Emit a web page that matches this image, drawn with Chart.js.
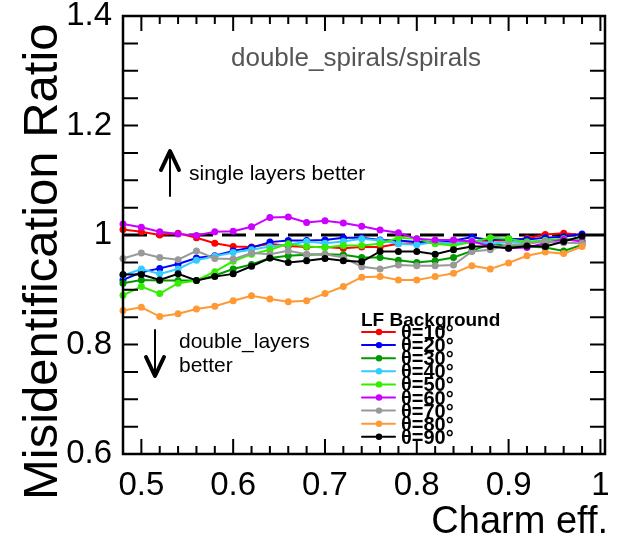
<!DOCTYPE html>
<html>
<head>
<meta charset="utf-8">
<script src="https://cdn.jsdelivr.net/npm/chart.js@4"></script>
<style>
  html, body { margin: 0; padding: 0; background: #fff; }
  #c { display: block; }
</style>
</head>
<body>
<canvas id="c" width="620" height="538"></canvas>
<script>
// charm efficiency bins
const charmEff = [0.48, 0.50, 0.52, 0.54, 0.56, 0.58, 0.60, 0.62, 0.64, 0.66, 0.68, 0.70, 0.72,
                  0.74, 0.76, 0.78, 0.80, 0.82, 0.84, 0.86, 0.88, 0.90, 0.92, 0.94, 0.96, 0.98];

// misidentification ratio per theta
const theta10 = [1.010, 1.006, 1.000, 1.003, 0.995, 0.985, 0.979, 0.978, 0.984, 0.980, 0.978, 0.978, 0.976,
                 0.978, 0.978, 0.984, 0.985, 0.986, 0.986, 0.988, 0.990, 0.990, 0.994, 1.001, 1.003, 1.000];
const theta20 = [0.918, 0.932, 0.939, 0.947, 0.958, 0.962, 0.971, 0.977, 0.987, 0.990, 0.990, 0.991, 0.995,
                 0.995, 0.991, 0.990, 0.987, 0.987, 0.990, 0.996, 0.991, 0.993, 0.992, 0.995, 0.997, 1.002];
const theta30 = [0.912, 0.918, 0.917, 0.917, 0.917, 0.926, 0.938, 0.946, 0.958, 0.962, 0.964, 0.965, 0.964,
                 0.959, 0.959, 0.954, 0.950, 0.953, 0.959, 0.971, 0.984, 0.980, 0.979, 0.977, 0.971, 0.982];
const theta40 = [0.926, 0.938, 0.929, 0.938, 0.954, 0.961, 0.968, 0.973, 0.979, 0.982, 0.988, 0.985, 0.988,
                 0.993, 0.990, 0.984, 0.982, 0.987, 0.984, 0.990, 0.984, 0.987, 0.987, 0.990, 0.991, 0.993];
const theta50 = [0.890, 0.906, 0.893, 0.912, 0.917, 0.933, 0.952, 0.965, 0.973, 0.984, 0.979, 0.977, 0.981,
                 0.981, 0.984, 0.995, 0.993, 0.984, 0.981, 0.987, 0.995, 0.993, 0.987, 0.990, 0.993, 0.990];
const theta60 = [1.020, 1.014, 1.006, 1.002, 0.999, 1.006, 1.007, 1.015, 1.032, 1.033, 1.023, 1.026, 1.022,
                 1.016, 1.009, 1.004, 0.993, 0.991, 0.991, 0.988, 0.980, 0.976, 0.977, 0.985, 0.992, 0.988];
const theta70 = [0.957, 0.967, 0.959, 0.955, 0.971, 0.957, 0.956, 0.967, 0.965, 0.971, 0.965, 0.965, 0.959,
                 0.942, 0.938, 0.945, 0.944, 0.944, 0.945, 0.970, 0.973, 0.982, 0.984, 0.988, 0.986, 0.985];
const theta80 = [0.862, 0.868, 0.851, 0.856, 0.865, 0.870, 0.880, 0.889, 0.883, 0.878, 0.880, 0.893, 0.906,
                 0.923, 0.924, 0.918, 0.918, 0.924, 0.930, 0.944, 0.938, 0.949, 0.962, 0.969, 0.966, 0.979];
const theta90 = [0.928, 0.928, 0.918, 0.929, 0.917, 0.924, 0.929, 0.943, 0.958, 0.950, 0.953, 0.957, 0.953,
                 0.951, 0.970, 0.970, 0.970, 0.965, 0.973, 0.979, 0.979, 0.976, 0.980, 0.979, 0.988, 0.998];

const seriesLabels = ['θ=10°', 'θ=20°', 'θ=30°', 'θ=40°', 'θ=50°', 'θ=60°', 'θ=70°', 'θ=80°', 'θ=90°'];
const seriesData = [theta10, theta20, theta30, theta40, theta50, theta60, theta70, theta80, theta90];
const seriesColors = ['#ff0000', '#0000ff', '#009a00', '#33ccff', '#33ee00', '#cc00ff', '#999999', '#ff9933', '#000000'];

const xTickLabels = [0.5, 0.6, 0.7, 0.8, 0.9, 1.0];
const yTickLabels = [0.6, 0.8, 1.0, 1.2, 1.4];

const FONT = '"Liberation Sans", Arial, Helvetica, sans-serif';

const datasets = seriesData.map((vals, i) => ({
    label: seriesLabels[i],
    data: vals.map((v, k) => ({ x: charmEff[k], y: v })),
    borderColor: seriesColors[i],
    backgroundColor: seriesColors[i],
    borderWidth: 2,
    pointRadius: 3.5,
    pointBorderWidth: 0,
    tension: 0,
    clip: false,
    order: seriesData.length - 1 - i
}));

// frame, inward ticks, reference line, annotations and legend
const decor = {
    id: 'decor',
    beforeDatasetsDraw(chart) {
        const ctx = chart.ctx, a = chart.chartArea, y = chart.scales.y;
        ctx.save();
        ctx.strokeStyle = '#000';
        ctx.lineWidth = 3;
        ctx.setLineDash([24, 9]);
        ctx.beginPath();
        ctx.moveTo(a.left, y.getPixelForValue(1.0));
        ctx.lineTo(a.right, y.getPixelForValue(1.0));
        ctx.stroke();
        ctx.restore();
    },
    afterDraw(chart) {
        const ctx = chart.ctx, a = chart.chartArea;
        const xs = chart.scales.x, ys = chart.scales.y;
        ctx.save();
        ctx.strokeStyle = '#000';
        ctx.fillStyle = '#000';

        // ticks
        ctx.lineWidth = 2;
        ctx.beginPath();
        for (let k = 0; k <= 26; k++) {
            const v = 0.48 + k * 0.02;
            if (v > 1.005) break;
            const px = xs.getPixelForValue(v);
            const major = Math.abs(v * 10 - Math.round(v * 10)) < 1e-6;
            const len = major ? 15 : 8;
            ctx.moveTo(px, a.bottom); ctx.lineTo(px, a.bottom - len);
            ctx.moveTo(px, a.top); ctx.lineTo(px, a.top + len);
        }
        for (let k = 0; k <= 16; k++) {
            const v = 0.6 + k * 0.05;
            const py = ys.getPixelForValue(v);
            const len = 15;
            ctx.moveTo(a.left, py); ctx.lineTo(a.left + len, py);
            ctx.moveTo(a.right, py); ctx.lineTo(a.right - len, py);
        }
        ctx.stroke();

        // frame
        ctx.lineWidth = 2.5;
        ctx.strokeRect(a.left, a.top, a.right - a.left, a.bottom - a.top);

        // axis titles
        ctx.font = '38px ' + FONT;
        ctx.textAlign = 'right';
        ctx.textBaseline = 'alphabetic';
        ctx.fillText('Charm eff.', 608, 533);

        ctx.save();
        ctx.translate(57, 500);
        ctx.rotate(-Math.PI / 2);
        ctx.textAlign = 'left';
        ctx.font = '49px ' + FONT;
        ctx.fillText('Misidentification Ratio', 0, 0);
        ctx.restore();

        // subtitle
        ctx.fillStyle = '#555';
        ctx.textAlign = 'center';
        ctx.font = '26px ' + FONT;
        ctx.fillText('double_spirals/spirals', 356, 66);

        // arrows
        ctx.fillStyle = '#000';
        ctx.lineCap = 'round';
        ctx.lineJoin = 'round';
        ctx.lineWidth = 2;
        ctx.beginPath();
        ctx.moveTo(170, 196); ctx.lineTo(170, 152);
        ctx.moveTo(155, 330); ctx.lineTo(155, 375);
        ctx.stroke();
        ctx.lineWidth = 4;
        ctx.beginPath();
        ctx.moveTo(161, 170); ctx.lineTo(170, 151); ctx.lineTo(179, 170);
        ctx.moveTo(146, 357); ctx.lineTo(155, 376); ctx.lineTo(164, 357);
        ctx.stroke();

        ctx.textAlign = 'left';
        ctx.font = '21px ' + FONT;
        ctx.fillText('single layers better', 189, 180);
        ctx.fillText('double_layers', 179, 348);
        ctx.fillText('better', 179, 372);

        // legend
        ctx.font = 'bold 19px ' + FONT;
        ctx.fillText('LF Background', 361, 326);
        chart.data.datasets.forEach((ds, i) => {
            const ly = 332 + i * 13.1;
            ctx.strokeStyle = ds.borderColor;
            ctx.fillStyle = ds.borderColor;
            ctx.lineWidth = 2;
            ctx.beginPath();
            ctx.moveTo(362, ly); ctx.lineTo(395, ly);
            ctx.stroke();
            ctx.beginPath();
            ctx.arc(379, ly, 3.2, 0, Math.PI * 2);
            ctx.fill();
            ctx.fillStyle = '#000';
            ctx.font = 'bold 20px ' + FONT;
            ctx.fillText(ds.label, 401, ly + 7);
        });
        ctx.restore();
    }
};

const fmt = v => String(Math.round(v * 10) / 10);

new Chart(document.getElementById('c').getContext('2d'), {
    type: 'line',
    data: { datasets: datasets },
    options: {
        responsive: false,
        animation: false,
        devicePixelRatio: 1,
        layout: { padding: { top: 16, right: 15, left: 0, bottom: 0 } },
        plugins: {
            legend: { display: false },
            tooltip: { enabled: false }
        },
        scales: {
            x: {
                type: 'linear',
                min: 0.48,
                max: 1.005,
                grid: { display: false, drawTicks: false },
                border: { display: false },
                afterBuildTicks: s => { s.ticks = xTickLabels.map(v => ({ value: v })); },
                afterFit: s => { s.height = 84; s.paddingLeft = 0; s.paddingRight = 0; },
                ticks: {
                    autoSkip: false,
                    maxRotation: 0,
                    padding: 12,
                    color: '#000',
                    font: { family: FONT, size: 33 },
                    callback: fmt
                }
            },
            y: {
                min: 0.6,
                max: 1.4,
                grid: { display: false, drawTicks: false },
                border: { display: false },
                afterBuildTicks: s => { s.ticks = yTickLabels.map(v => ({ value: v })); },
                afterFit: s => { s.width = 123; s.paddingTop = 0; s.paddingBottom = 0; },
                ticks: {
                    padding: 11,
                    color: '#000',
                    font: { family: FONT, size: 33 },
                    callback: fmt
                }
            }
        }
    },
    plugins: [decor]
});
</script>
</body>
</html>
